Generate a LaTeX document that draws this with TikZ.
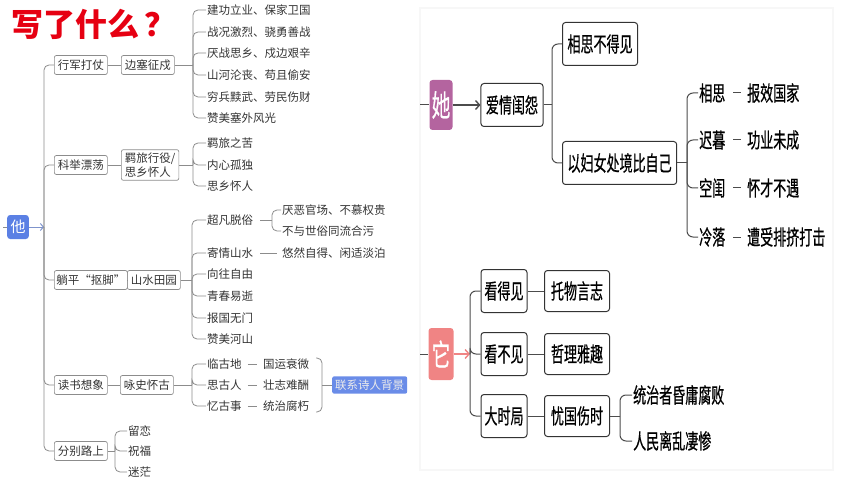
\documentclass[tikz,border=0pt]{standalone}
\usepackage{fontspec}
\setmainfont{Noto Sans CJK SC}
\newfontfamily\narrowcjk[FakeStretch=0.62, FakeBold=0.6]{Noto Sans CJK SC}
\usetikzlibrary{arrows.meta}
\definecolor{heblue}{HTML}{5B80E4}
\definecolor{bgblue}{HTML}{6A8CE8}
\definecolor{shepurple}{HTML}{B4649F}
\definecolor{itpink}{HTML}{F08484}
\definecolor{titlered}{HTML}{E60012}
\tikzset{
lbox/.style={draw=black!45, rounded corners=2pt, line width=0.7pt, anchor=west,
  inner xsep=3.5pt, inner ysep=2.5pt, minimum height=19pt,
  font=\fontsize{11.5pt}{14pt}\selectfont, text=black!80},
leaf/.style={anchor=west, inner sep=1pt, font=\fontsize{11.5pt}{13pt}\selectfont, text=black!80},
lline/.style={draw=black!45, line width=0.8pt},
lcurve/.style={lline, rounded corners=5pt},
rbox/.style={draw=black!80, rounded corners=3pt, line width=1pt, minimum height=43pt,
  inner xsep=5pt, font=\narrowcjk\fontsize{21pt}{24pt}\selectfont},
rleaf/.style={anchor=west, inner sep=1pt, font=\narrowcjk\fontsize{21pt}{24pt}\selectfont},
rline/.style={draw=black!70, line width=1pt},
rcurve/.style={rline, rounded corners=6pt},
tag/.style={rounded corners=3pt, text=white}}

\begin{document}
\begin{tikzpicture}[x=1pt, y=-1pt]
\useasboundingbox (0,0) rectangle (860,484);
\node[anchor=west, text=titlered, font=\fontsize{32pt}{34pt}\selectfont\bfseries] (title) at (8,24) {写了什么\,？};

% he
\node[tag, fill=heblue, minimum width=21pt, minimum height=24pt, font=\fontsize{15pt}{16pt}\selectfont] (ta) at (18,227) {他};
\coordinate (tastub) at (3,227);
\coordinate (trunk) at (44,227);
\draw[lline] (tastub) -- (ta.west);
\draw[-{Straight Barb[length=3pt,width=7pt]}, draw=heblue!80!black!70, line width=1pt] (ta.east) -- (trunk);

\node[lbox] (k1) at (54,65) {行军打仗};
\node[lbox] (k2) at (54,165) {科举漂荡};
\node[lbox, inner xsep=2pt] (k3) at (54,280) {躺平“抠脚”};
\node[lbox] (k4) at (54,385) {读书想象};
\node[lbox] (k5) at (54,451) {分别路上};
\foreach \k in {k1,k2,k3,k4,k5}
  \draw[lcurve] (trunk) |- (\k.west);

\node[lbox] (m1) at (121,65) {边塞征戍};
\node[lbox, align=left, inner ysep=3pt] (m2) at (121,165) {羁旅行役/\\思乡怀人};
\node[lbox] (m3) at (127,280) {山水田园};
\node[lbox] (m4) at (120,385) {咏史怀古};
\draw[lline] (k1) -- (m1);
\draw[lline] (k2) -- (m2);
\draw[lline] (k3) -- (m3);
\draw[lline] (k4) -- (m4);

% frontier
\coordinate (b1) at (193,65);
\draw[lline] (m1.east) -- (b1);
\foreach \t/\y [count=\i] in {建功立业、保家卫国/10, 战况激烈、骁勇善战/32, 厌战思乡、戍边艰辛/53,
    山河沦丧、苟且偷安/75, 穷兵黩武、劳民伤财/97, 赞美塞外风光/118}{
  \node[leaf] (p\i) at (206,\y) {\t};
  \draw[lcurve] (b1) |- (p\i.west);
}

% travel
\coordinate (b2) at (193,165);
\draw[lline] (m2.east) -- (b2);
\foreach \t/\y [count=\i] in {羁旅之苦/143, 内心孤独/165, 思乡怀人/186}{
  \node[leaf] (q\i) at (206,\y) {\t};
  \draw[lcurve] (b2) |- (q\i.west);
}

% landscape
\coordinate (b3) at (192,280);
\draw[lline] (m3.east) -- (b3);
\foreach \t/\y [count=\i] in {超凡脱俗/220, 寄情山水/253, 向往自由/274, 青春易逝/296, 报国无门/318, 赞美河山/339}{
  \node[leaf] (s\i) at (206,\y) {\t};
  \draw[lcurve] (b3) |- (s\i.west);
}
\coordinate (b3a) at (272,220);
\draw[lline, shorten <=6pt] (s1.east) -- (b3a);
\node[leaf] (s1a) at (281,210) {厌恶官场、不慕权贵};
\node[leaf] (s1b) at (281,231) {不与世俗同流合污};
\draw[lcurve] (b3a) |- (s1a.west);
\draw[lcurve] (b3a) |- (s1b.west);
\node[leaf] (s2a) at (281,253) {悠然自得、闲适淡泊};
\draw[lline, shorten <=6pt, shorten >=4pt] (s2.east) -- (s2a.west);

% history
\coordinate (b4) at (192,385);
\draw[lline] (m4.east) -- (b4);
\foreach \t/\u/\y [count=\i] in {临古地/国运衰微/364, 思古人/壮志难酬/385, 忆古事/统治腐朽/406}{
  \node[leaf] (h\i) at (206,\y) {\t};
  \node[leaf] (g\i) at (262,\y) {\u};
  \draw[lcurve] (b4) |- (h\i.west);
  \draw[lline, shorten <=5pt, shorten >=5pt] (h\i.east) -- (g\i.west);
}
\coordinate (rb) at (322,385);
\coordinate (ct) at (316,358);
\coordinate (cb) at (316,412);
\draw[lcurve] (ct) -| (rb) |- (cb);
\node[tag, fill=bgblue, anchor=west, minimum height=17pt, inner xsep=3pt, rounded corners=2pt,
  font=\fontsize{11.5pt}{13pt}\selectfont, text=white!92!black] (bg) at (332,385) {联系诗人背景};
\draw[lline] (rb) -- (bg.west);

% parting
\coordinate (b5) at (115,451);
\draw[lline] (k5.east) -- (b5);
\foreach \t/\y [count=\i] in {留恋/431, 祝福/451, 迷茫/472}{
  \node[leaf] (f\i) at (127,\y) {\t};
  \draw[lcurve] (b5) |- (f\i.west);
}

% right panel
\draw[black!3, line width=1.5pt] (420,8) rectangle (833,470);

% she
\node[tag, fill=shepurple, minimum width=23pt, minimum height=50pt, inner sep=0pt,
  font=\narrowcjk\fontsize{30pt}{32pt}\selectfont] (sh) at (441,105) {她};
\coordinate (shstub) at (420,105);
\draw[rline] (shstub) -- (sh.west);
\node[rbox] (aq) at (512,105) {爱情闺怨};
\draw[-{Straight Barb[length=4pt,width=9pt]}, draw=black!70, line width=1.4pt] (sh.east) -- (aq.west);
\coordinate (j1) at (552,105);
\draw[rline] (aq.east) -- (j1);
\node[rbox, anchor=west] (xs) at (562,44) {相思不得见};
\node[rbox, anchor=west] (yf) at (562,163) {以妇女处境比自己};
\draw[rcurve] (j1) |- (xs.west);
\draw[rcurve] (j1) |- (yf.west);
\coordinate (j2) at (687,163);
\draw[rline] (yf.east) -- (j2);
\foreach \t/\u/\y [count=\i] in {相思/报效国家/93, 迟暮/功业未成/140, 空闺/怀才不遇/188, 冷落/遭受排挤打击/237}{
  \node[rleaf] (w\i) at (698,\y) {\t};
  \node[rleaf] (v\i) at (746,\y) {\u};
  \draw[rcurve] (j2) |- (w\i.west);
  \draw[rline, shorten <=7pt, shorten >=5pt] (w\i.east) -- (v\i.west);
}

% it
\node[tag, fill=itpink, minimum width=25pt, minimum height=52pt, inner sep=0pt,
  font=\narrowcjk\fontsize{30pt}{32pt}\selectfont] (it) at (441,354) {它};
\coordinate (itstub) at (420,354);
\coordinate (t) at (470,354);
\draw[rline] (itstub) -- (it.west);
\draw[-{Straight Barb[length=4pt,width=9pt]}, draw=itpink, line width=1.4pt] (it.east) -- (t);
\foreach \a/\b/\y [count=\i] in {看得见/托物言志/291, 看不见/哲理雅趣/354, 大时局/忧国伤时/416}{
  \node[rbox, minimum width=46pt, inner xsep=3pt] (c\i) at (504,\y) {\a};
  \node[rbox, minimum width=65pt, minimum height=41pt] (d\i) at (577,\y) {\b};
  \draw[rcurve] (t) |- (c\i.west);
  \draw[rline] (c\i) -- (d\i);
}
\coordinate (j3) at (620,416);
\draw[rline] (d3.east) -- (j3);
\node[rleaf] (e1) at (632,395) {统治者昏庸腐败};
\node[rleaf] (e2) at (632,441) {人民离乱凄惨};
\draw[rcurve] (j3) |- (e1.west);
\draw[rcurve] (j3) |- (e2.west);
\end{tikzpicture}
\end{document}
